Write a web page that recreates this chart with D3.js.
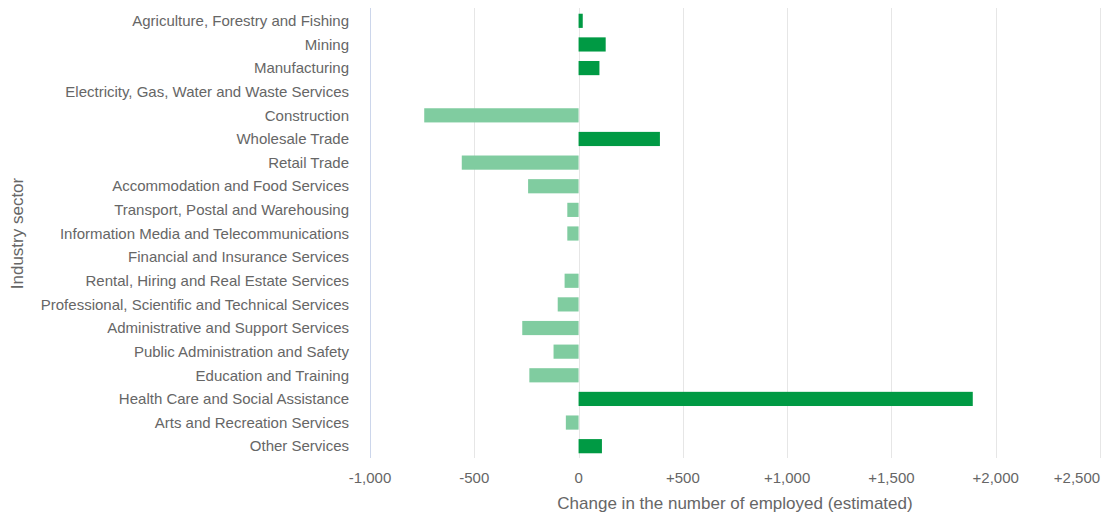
<!DOCTYPE html>
<html>
<head>
<meta charset="utf-8">
<script src="https://cdn.jsdelivr.net/npm/d3@7"></script>
<style>
  body { margin: 0; background: #fff; }
  text { font-family: "Liberation Sans", Arial, sans-serif; }
</style>
</head>
<body>
<script>
// Industry sectors, top to bottom
var sectors = [
  'Agriculture, Forestry and Fishing',
  'Mining',
  'Manufacturing',
  'Electricity, Gas, Water and Waste Services',
  'Construction',
  'Wholesale Trade',
  'Retail Trade',
  'Accommodation and Food Services',
  'Transport, Postal and Warehousing',
  'Information Media and Telecommunications',
  'Financial and Insurance Services',
  'Rental, Hiring and Real Estate Services',
  'Professional, Scientific and Technical Services',
  'Administrative and Support Services',
  'Public Administration and Safety',
  'Education and Training',
  'Health Care and Social Assistance',
  'Arts and Recreation Services',
  'Other Services'
];

// Estimated change in employed
var changes = [20, 130, 100, 0, -740, 390, -560, -242, -54, -54, 0, -67, -100, -270, -120, -236, 1890, -61, 112];

var xTicks = [-1000, -500, 0, 500, 1000, 1500, 2000, 2500];

var W = 1103, H = 515;
var margin = {top: 9, right: 3, bottom: 57, left: 370};

var svg = d3.select('body').append('svg')
  .attr('width', W)
  .attr('height', H);

var x = d3.scaleLinear()
  .domain([-1000, 2500])
  .range([margin.left, W - margin.right]);

var y = d3.scaleBand()
  .domain(sectors)
  .range([margin.top, H - margin.bottom])
  .paddingInner(0.4)
  .paddingOuter(0.2);

// gridlines
svg.append('g')
  .selectAll('line')
  .data(xTicks)
  .enter().append('line')
  .attr('x1', function(d) { return Math.round(x(d)) + 0.5; })
  .attr('x2', function(d) { return Math.round(x(d)) + 0.5; })
  .attr('y1', margin.top - 1)
  .attr('y2', H - margin.bottom)
  .attr('stroke', function(d) { return d === -1000 ? '#ccd6eb' : '#e6e6e6'; })
  .attr('stroke-width', 1);

// bars
var data = sectors.map(function(s, i) { return {sector: s, value: changes[i]}; });

svg.append('g')
  .selectAll('rect')
  .data(data)
  .enter().append('rect')
  .attr('x', function(d) { return x(Math.min(0, d.value)); })
  .attr('y', function(d) { return y(d.sector); })
  .attr('width', function(d) { return Math.abs(x(d.value) - x(0)); })
  .attr('height', y.bandwidth())
  .attr('fill', function(d) { return d.value >= 0 ? '#009a44' : '#80cca0'; });

// category labels
svg.append('g')
  .selectAll('text')
  .data(sectors)
  .enter().append('text')
  .attr('x', 349)
  .attr('y', function(d) { return y(d) + y.bandwidth() / 2; })
  .attr('dy', '0.35em')
  .attr('text-anchor', 'end')
  .attr('font-size', 15)
  .attr('fill', '#666')
  .text(function(d) { return d; });

// x tick labels
var fmt = d3.format(',');
svg.append('g')
  .selectAll('text')
  .data(xTicks)
  .enter().append('text')
  .attr('x', function(d) { return d === 2500 ? x(d) - 23 : x(d); })
  .attr('y', 483)
  .attr('text-anchor', 'middle')
  .attr('font-size', 15)
  .attr('fill', '#666')
  .text(function(d) { return (d > 0 ? '+' : '') + fmt(d).replace('−', '-'); });

// axis titles
svg.append('text')
  .attr('x', (margin.left + W - margin.right) / 2)
  .attr('y', 509)
  .attr('text-anchor', 'middle')
  .attr('font-size', 17)
  .attr('fill', '#666')
  .text('Change in the number of employed (estimated)');

svg.append('text')
  .attr('transform', 'translate(23,' + ((margin.top + H - margin.bottom) / 2) + ') rotate(-90)')
  .attr('text-anchor', 'middle')
  .attr('font-size', 17)
  .attr('fill', '#666')
  .text('Industry sector');
</script>
</body>
</html>
